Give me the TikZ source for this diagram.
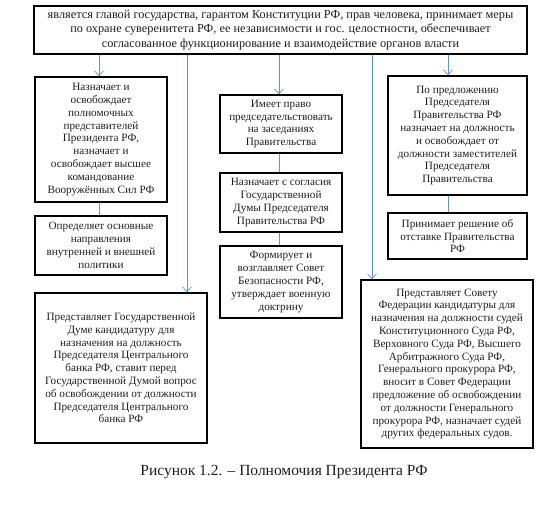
\documentclass[tikz,border=0pt]{standalone}
\usepackage{fontspec}
\setmainfont{Liberation Serif}
\usetikzlibrary{positioning,arrows.meta}

\definecolor{linkblue}{RGB}{98,146,204}
\definecolor{txtgray}{RGB}{30,30,30}

\tikzset{
    box/.style={draw, line width=1.3pt, align=center, inner sep=1pt,
        text=txtgray, font=\fontsize{11.2}{12.8}\selectfont},
    link/.style={draw=linkblue, line width=0.7pt},
    arr/.style={link, -{Straight Barb[length=5pt,width=9pt]}}
}

\begin{document}
\begin{tikzpicture}[x=1pt,y=-1pt]
    \useasboundingbox (0,0) rectangle (547,514);

    % Верхний блок
    \node[box, minimum width=493, minimum height=48, font=\fontsize{12.3}{14.5}\selectfont] (top) at (280.5,30)
        {является главой государства, гарантом Конституции РФ, прав человека, принимает меры\\
         по охране суверенитета РФ, ее независимости и гос. целостности, обеспечивает\\
         согласованное функционирование и взаимодействие органов власти};

    % Левая колонка
    \node[box, minimum width=132, minimum height=125] (l1) at (101,139.5)
        {Назначает и\\освобождает\\полномочных\\представителей\\Президента РФ,\\назначает и\\освобождает высшее\\командование\\Вооружённых Сил РФ};
    \node[box, minimum width=132, minimum height=59] (l2) at (101,245.5)
        {Определяет основные\\направления\\внутренней и внешней\\политики};
    \node[box, minimum width=172, minimum height=150] (lb) at (121,368)
        {Представляет Государственной\\Думе кандидатуру для\\назначения на должность\\Председателя Центрального\\банка РФ, ставит перед\\Государственной Думой вопрос\\об освобождении от должности\\Председателя Центрального\\банка РФ};

    % Средняя колонка
    \node[box, minimum width=122, minimum height=58] (c1) at (281,124)
        {Имеет право\\председательствовать\\на заседаниях\\Правительства};
    \node[box, minimum width=122, minimum height=59] (c2) at (281,202.5)
        {Назначает с согласия\\Государственной\\Думы Председателя\\Правительства РФ};
    \node[box, minimum width=122, minimum height=72] (c3) at (281,282)
        {Формирует и\\возглавляет Совет\\Безопасности РФ,\\утверждает военную\\доктрину};

    % Правая колонка
    \node[box, minimum width=139, minimum height=119] (r1) at (457.5,135.5)
        {По предложению\\Председателя\\Правительства РФ\\назначает на должность\\и освобождает от\\должности заместителей\\Председателя\\Правительства};
    \node[box, minimum width=139, minimum height=46] (r2) at (457.5,236)
        {Принимает решение об\\отставке Правительства\\РФ};
    \node[box, minimum width=172, minimum height=168] (rb) at (447,364)
        {Представляет Совету\\Федерации кандидатуры для\\назначения на должности судей\\Конституционного Суда РФ,\\Верховного Суда РФ, Высшего\\Арбитражного Суда РФ,\\Генерального прокурора РФ,\\вносит в Совет Федерации\\предложение об освобождении\\от должности Генерального\\прокурора РФ, назначает судей\\других федеральных судов.};

    % Линии связи
    \coordinate (xa) at (99,0);
    \coordinate (xb) at (187,0);
    \coordinate (xc) at (279,0);
    \coordinate (xd) at (372,0);
    \coordinate (xe) at (448,0);

    \draw[arr] (top.south -| xa) -- (l1.north -| xa);
    \draw[link] (l1.south -| xa) -- (l2.north -| xa);
    \draw[arr] (top.south -| xb) -- (lb.north -| xb);
    \draw[arr] (top.south -| xc) -- (c1.north -| xc);
    \draw[link] (c1.south -| xc) -- (c2.north -| xc);
    \draw[link] (c2.south -| xc) -- (c3.north -| xc);
    \draw[arr] (top.south -| xd) -- (rb.north -| xd);
    \draw[arr] (top.south -| xe) -- (r1.north -| xe);
    \draw[link] (r1.south -| xe) -- (r2.north -| xe);

    % Подпись
    \node[font=\fontsize{15.5}{18}\selectfont, text=txtgray] (cap) at (284,472) {Рисунок 1.2. – Полномочия Президента РФ};
\end{tikzpicture}
\end{document}
